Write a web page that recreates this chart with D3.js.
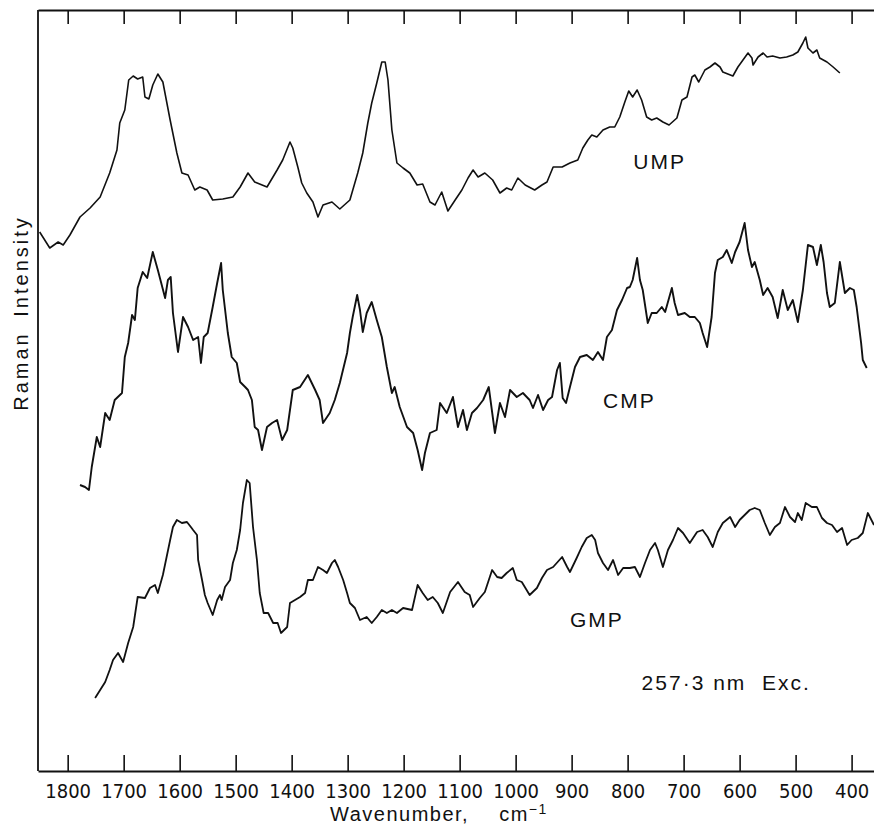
<!DOCTYPE html>
<html>
<head>
<meta charset="utf-8">
<script src="https://cdn.jsdelivr.net/npm/d3@7"></script>
<style>
  body { margin: 0; background: #fff; }
  svg { display: block; }
  .tick text { font-family: "Liberation Sans Narrow", "DejaVu Sans Condensed", "Liberation Sans", sans-serif; font-size: 20px; fill: #111; }
  .lbl { font-family: "Liberation Sans", Arial, sans-serif; fill: #111; }
</style>
</head>
<body>
<div id="chart"></div>
<script>
// wavenumber ticks (cm-1)
const wavenumberTicks = [1800, 1700, 1600, 1500, 1400, 1300, 1200, 1100, 1000, 900, 800, 700, 600, 500, 400];

// [wavenumber, relative intensity]
const umpSpectrum = [
  [1850,539],[1832,523],[1817,529],[1808,526],[1796,536],[1778,554],[1760,563],[1742,574],[1725,598],[1712,621],
  [1707,648],[1698,661],[1691,691],[1683,695],[1675,692],[1666,694],[1662,674],[1655,672],[1648,686],[1639,697],
  [1630,689],[1617,651],[1605,618],[1596,598],[1585,596],[1573,581],[1564,584],[1551,581],[1541,571],[1523,572],
  [1505,574],[1492,584],[1478,598],[1466,589],[1444,584],[1426,601],[1416,611],[1403,629],[1398,623],[1389,604],
  [1382,588],[1373,578],[1362,569],[1353,554],[1344,566],[1328,569],[1314,562],[1296,571],[1282,598],[1273,618],
  [1264,648],[1257,668],[1248,688],[1239,709],[1233,709],[1228,691],[1221,641],[1212,608],[1201,603],[1189,598],
  [1176,586],[1166,587],[1153,569],[1144,566],[1132,579],[1121,560],[1108,571],[1096,581],[1085,593],[1076,601],
  [1067,594],[1055,598],[1041,591],[1028,578],[1016,583],[1007,581],[996,593],[983,586],[966,581],[953,586],
  [944,589],[933,604],[917,604],[903,608],[889,611],[880,623],[871,631],[864,636],[855,634],[844,641],
  [832,644],[823,644],[814,654],[805,669],[798,680],[791,674],[783,681],[775,671],[766,654],[757,651],
  [748,653],[737,649],[726,646],[712,653],[703,671],[694,674],[685,694],[680,696],[673,689],[662,701],
  [653,704],[644,708],[635,704],[630,699],[621,697],[612,695],[603,704],[594,711],[585,718],[578,713],
  [576,706],[567,714],[558,718],[551,714],[541,715],[528,713],[516,714],[505,716],[496,719],[487,728],
  [482,734],[478,723],[469,718],[462,721],[457,713],[444,709],[433,704],[421,698]
];

const cmpSpectrum = [
  [1778,286],[1769,284],[1762,281],[1757,304],[1748,334],[1742,324],[1733,358],[1725,351],[1716,371],[1703,378],
  [1698,414],[1692,428],[1685,456],[1680,451],[1675,483],[1666,499],[1658,493],[1648,519],[1644,511],[1639,501],
  [1632,486],[1626,473],[1621,491],[1616,494],[1612,458],[1603,419],[1594,454],[1585,444],[1576,431],[1567,434],
  [1562,408],[1557,434],[1550,438],[1541,464],[1533,488],[1526,508],[1523,481],[1514,438],[1507,414],[1498,408],
  [1492,389],[1483,384],[1478,381],[1471,371],[1466,344],[1460,341],[1453,321],[1444,344],[1435,348],[1426,351],
  [1417,331],[1408,341],[1398,381],[1385,384],[1371,396],[1358,381],[1350,371],[1344,348],[1332,358],[1323,371],
  [1314,388],[1301,418],[1296,438],[1291,454],[1283,476],[1278,461],[1273,439],[1266,458],[1257,469],[1248,451],
  [1239,434],[1230,404],[1221,378],[1216,384],[1207,364],[1194,344],[1183,338],[1175,321],[1167,301],[1162,318],
  [1153,338],[1141,341],[1135,368],[1123,358],[1112,374],[1103,344],[1094,361],[1087,341],[1078,358],[1069,363],
  [1058,371],[1048,384],[1037,338],[1028,368],[1019,354],[1010,381],[998,374],[987,378],[975,371],[969,363],
  [960,376],[951,361],[942,371],[935,374],[926,401],[921,408],[916,373],[910,368],[903,384],[894,404],
  [885,414],[873,416],[862,411],[853,419],[844,411],[837,434],[828,441],[819,461],[810,471],[801,483],
  [796,484],[791,491],[783,513],[778,491],[773,481],[764,448],[757,458],[748,458],[739,464],[733,459],
  [721,483],[716,468],[710,456],[698,458],[689,454],[680,454],[671,448],[666,438],[658,424],[650,454],
  [644,498],[639,511],[630,514],[623,521],[614,508],[608,519],[600,529],[591,548],[585,521],[578,504],
  [573,509],[564,491],[558,476],[550,483],[541,474],[532,453],[523,481],[514,461],[505,471],[496,449],
  [487,481],[478,526],[469,524],[462,506],[455,526],[450,509],[444,478],[439,464],[430,468],[421,509],
  [412,478],[403,483],[396,481],[391,464],[383,428],[380,411],[373,403]
];

const gmpSpectrum = [
  [1751,73],[1742,81],[1733,89],[1725,101],[1719,111],[1710,118],[1701,109],[1692,128],[1683,144],[1675,174],
  [1662,173],[1653,183],[1644,186],[1639,178],[1630,196],[1617,231],[1612,244],[1605,251],[1596,248],[1587,249],
  [1580,244],[1576,241],[1569,236],[1567,211],[1560,191],[1555,176],[1550,168],[1541,156],[1533,171],[1528,176],
  [1525,171],[1519,184],[1510,191],[1505,208],[1498,221],[1492,241],[1487,268],[1480,291],[1475,288],[1469,244],
  [1462,211],[1457,178],[1450,158],[1442,158],[1433,148],[1425,148],[1419,138],[1408,144],[1403,168],[1394,171],
  [1385,174],[1376,178],[1371,191],[1362,191],[1353,204],[1344,201],[1337,198],[1328,208],[1323,211],[1317,204],
  [1308,191],[1301,178],[1296,168],[1287,163],[1278,151],[1266,154],[1257,148],[1248,154],[1239,161],[1230,158],
  [1221,161],[1212,158],[1201,163],[1185,161],[1175,186],[1166,178],[1157,171],[1148,174],[1139,168],[1130,158],
  [1117,179],[1103,189],[1091,179],[1082,176],[1076,164],[1064,173],[1055,179],[1042,201],[1033,194],[1025,193],
  [1016,198],[1005,203],[998,191],[989,189],[975,176],[962,183],[953,193],[944,201],[933,204],[917,214],
  [908,204],[903,199],[891,213],[882,224],[873,233],[864,236],[858,231],[853,218],[844,208],[835,201],
  [826,211],[817,196],[808,203],[796,203],[787,204],[778,194],[769,208],[760,221],[751,228],[746,221],
  [737,204],[728,221],[719,231],[710,243],[701,238],[689,228],[676,239],[666,241],[657,234],[648,224],
  [639,239],[630,248],[617,254],[608,244],[600,251],[591,256],[582,261],[573,263],[564,261],[555,248],
  [546,236],[537,244],[528,248],[519,264],[510,254],[501,249],[496,258],[489,251],[482,268],[471,264],
  [462,264],[453,253],[444,248],[435,246],[426,239],[417,243],[408,226],[400,231],[389,233],[380,238],
  [371,258],[360,246]
];

// trace labels: [text, wavenumber, intensity] of the text's left baseline
const traceLabels = [
  ["UMP", 790, 602],
  ["CMP", 844, 363],
  ["GMP", 903, 144],
  ["257\u00B73 nm  Exc.", 775, 81]
];

const width = 874, height = 825;

const svg = d3.select("#chart").append("svg")
    .attr("width", width)
    .attr("height", height);

const x = d3.scaleLinear().domain([1853, 360]).range([38, 874]);
const y = d3.scaleLinear().domain([0, 761]).range([771, 10]);

// bottom axis with inward ticks
const xAxisGroup = svg.append("g")
    .attr("transform", `translate(0, ${y(0)})`)
    .call(d3.axisBottom(x).tickValues(wavenumberTicks).tickSizeInner(-16).tickSizeOuter(0).tickPadding(13).tickFormat(d3.format("d")));

// top axis, ticks only
const topAxisGroup = svg.append("g")
    .attr("transform", `translate(0, ${y(761)})`)
    .call(d3.axisTop(x).tickValues(wavenumberTicks).tickSizeInner(-14).tickSizeOuter(0).tickFormat(""));

[xAxisGroup, topAxisGroup].forEach(g => {
    g.select(".domain").attr("stroke", "#111").attr("stroke-width", 1.8);
    g.selectAll(".tick line").attr("stroke", "#111").attr("stroke-width", 1.6);
});

// left frame line
svg.append("line")
    .attr("x1", x.range()[0]).attr("x2", x.range()[0])
    .attr("y1", y.range()[1]).attr("y2", y.range()[0])
    .attr("stroke", "#111").attr("stroke-width", 1.8);

const line = d3.line()
    .x(d => x(d[0]))
    .y(d => y(d[1]));

[[umpSpectrum, 1.6], [cmpSpectrum, 1.9], [gmpSpectrum, 1.8]].forEach(([data, w]) => {
    svg.append("path")
        .datum(data)
        .attr("fill", "none")
        .attr("stroke", "#111")
        .attr("stroke-width", w)
        .attr("stroke-linejoin", "round")
        .attr("d", line);
});

svg.selectAll(".trace-label")
    .data(traceLabels)
    .enter().append("text")
    .attr("class", "lbl trace-label")
    .attr("x", d => x(d[1]))
    .attr("y", d => y(d[2]))
    .attr("font-size", 21)
    .attr("letter-spacing", 2)
    .style("white-space", "pre")
    .text(d => d[0]);

// axis titles
const xTitle = svg.append("text")
    .attr("class", "lbl")
    .attr("x", 330)
    .attr("y", 821)
    .attr("font-size", 20)
    .attr("letter-spacing", 1.5);
xTitle.append("tspan").text("Wavenumber,");
xTitle.append("tspan").attr("dx", 30).text("cm");
xTitle.append("tspan").attr("dy", -7).attr("font-size", 14).text("\u22121");

svg.append("text")
    .attr("class", "lbl")
    .attr("transform", "translate(28, 313) rotate(-90)")
    .attr("text-anchor", "middle")
    .attr("font-size", 20)
    .attr("letter-spacing", 3)
    .attr("word-spacing", 6)
    .text("Raman Intensity");
</script>
</body>
</html>
